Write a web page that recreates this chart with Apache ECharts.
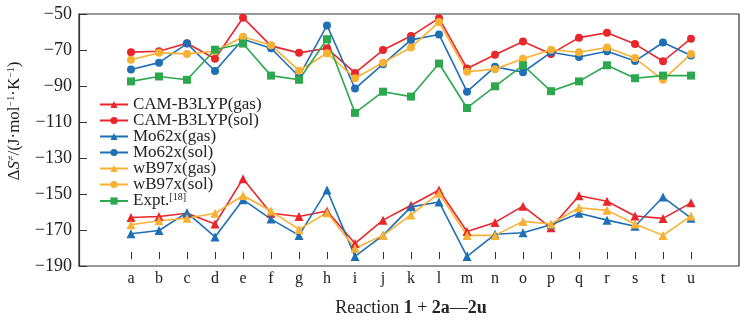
<!DOCTYPE html>
<html><head><meta charset="utf-8">
<script src="https://cdn.jsdelivr.net/npm/echarts@6/dist/echarts.min.js"></script>
<style>html,body{margin:0;padding:0;background:#fff}#c{width:751px;height:322px}</style>
</head><body><div id="c"></div>
<script>
var categories = ['a','b','c','d','e','f','g','h','i','j','k','l','m','n','o','p','q','r','s','t','u'];
var yTicks = {min: -190, max: -50, interval: 20};
var camGas = [-166.3,-165.7,-163.9,-170.0,-144.1,-163.9,-165.7,-162.6,-181.1,-167.8,-159.3,-150.6,-174.3,-169.1,-159.8,-172.2,-153.9,-157.0,-165.4,-166.8,-157.9];
var camSol = [-71.8,-71.3,-66.7,-75.6,-52.1,-68.2,-72.2,-69.6,-83.7,-70.6,-62.6,-52.4,-81.1,-73.3,-65.7,-72.8,-63.5,-60.7,-67.2,-77.0,-64.1];
var moGas = [-175.6,-173.7,-163.5,-177.4,-156.1,-167.2,-176.5,-150.6,-188.5,-176.5,-160.2,-157.4,-188.5,-175.9,-175.0,-170.4,-163.9,-167.8,-171.3,-154.6,-166.7];
var moSol = [-81.7,-77.8,-66.9,-82.6,-64.4,-69.6,-85.7,-56.5,-92.6,-78.7,-64.8,-61.7,-94.4,-80.2,-83.3,-71.9,-74.6,-71.3,-76.9,-66.3,-73.7];
var wbGas = [-170.4,-168.1,-166.7,-163.9,-153.7,-162.6,-173.1,-163.5,-183.9,-176.5,-164.8,-152.4,-176.5,-176.5,-168.5,-170.0,-160.7,-162.2,-170.0,-176.5,-165.4];
var wbSol = [-76.1,-72.2,-72.8,-71.3,-63.0,-67.8,-82.4,-72.4,-86.7,-77.8,-69.1,-54.6,-83.0,-81.5,-75.6,-70.4,-71.9,-69.1,-75.2,-87.6,-72.8];
var expt = [-88.5,-85.7,-87.6,-70.4,-66.9,-85.2,-87.6,-64.4,-106.5,-94.4,-97.2,-78.3,-103.7,-91.3,-79.3,-94.1,-88.5,-79.3,-86.7,-85.2,-85.2];

var FONT = '"Liberation Serif", "Times New Roman", serif';
var RED = '#e8262b', BLUE = '#1f6fb5', ORANGE = '#f8b133', GREEN = '#2ea84f';

function mk(name, data, color, symbol, size) {
  return {
    name: name, type: 'line', data: data, xAxisIndex: 1, yAxisIndex: 1,
    symbol: symbol, symbolSize: size,
    lineStyle: {color: color, width: 1.6},
    itemStyle: {color: color},
    emphasis: {disabled: true}
  };
}

var chart = echarts.init(document.getElementById('c'));
chart.setOption({
  animation: false,
  backgroundColor: '#fff',
  grid: [
    {left: 79, right: 12, top: 14, bottom: 56, show: true, borderColor: '#333', borderWidth: 1.2, backgroundColor: 'transparent'},
    {left: 131, right: 60, top: 14, bottom: 56}
  ],
  xAxis: [
    {type: 'value', gridIndex: 0, show: false, min: 0, max: 1},
    {type: 'category', gridIndex: 1, data: categories, boundaryGap: false,
     axisLine: {show: false},
     axisTick: {show: true, inside: true, length: 7, alignWithLabel: true, lineStyle: {color: '#333', width: 1}},
     axisLabel: {color: '#222', fontFamily: FONT, fontSize: 16, margin: 12, interval: 0},
     splitLine: {show: false},
     name: 'Reaction {b|1} + {b|2a}—{b|2u}', nameLocation: 'middle', nameGap: 40,
     nameTextStyle: {color: '#222', fontFamily: FONT, fontSize: 18,
       rich: {b: {fontWeight: 'bold', fontFamily: FONT, fontSize: 18, color: '#222'}}}
    }
  ],
  yAxis: [
    {type: 'value', gridIndex: 0, min: yTicks.min, max: yTicks.max, interval: yTicks.interval,
     axisLine: {show: true, lineStyle: {color: '#333', width: 1.2}},
     axisTick: {show: true, inside: true, length: 8, lineStyle: {color: '#333', width: 1}},
     axisLabel: {color: '#222', fontFamily: FONT, fontSize: 18, margin: 7,
       formatter: function (v) { return String(v).replace('-', '\u2212'); }},
     splitLine: {show: false}
    },
    {type: 'value', gridIndex: 1, min: yTicks.min, max: yTicks.max, interval: yTicks.interval, show: false}
  ],
  legend: {
    orient: 'vertical', left: 99, top: 96, padding: 0, itemWidth: 28, itemHeight: 9, itemGap: -1,
    textStyle: {color: '#222', fontFamily: FONT, fontSize: 17, lineHeight: 16,
      rich: {s: {fontFamily: FONT, fontSize: 10, color: '#222', lineHeight: 16, padding: [0, 0, 8, 0]}}},
    formatter: function (n) { return n === 'Expt.' ? 'Expt.{s|[18]}' : n; },
    data: ['CAM-B3LYP(gas)','CAM-B3LYP(sol)','Mo62x(gas)','Mo62x(sol)','wB97x(gas)','wB97x(sol)','Expt.']
  },
  graphic: [{
    type: 'text', rotation: Math.PI / 2,
    x: 15, y: 121,
    style: {
      text: 'Δ{i|S}{s|≠}/(J·mol{s|−1}·K{s|−1})',
      fill: '#222', font: '17px ' + FONT, align: 'center', verticalAlign: 'middle',
      rich: {
        i: {fontStyle: 'italic', fontFamily: FONT, fontSize: 17, fill: '#222'},
        s: {fontFamily: FONT, fontSize: 10, fill: '#222', padding: [0, 0, 8, 0]}
      }
    }
  }],
  series: [
    mk('CAM-B3LYP(gas)', camGas, RED, 'triangle', 9),
    mk('CAM-B3LYP(sol)', camSol, RED, 'circle', 8),
    mk('Mo62x(gas)', moGas, BLUE, 'triangle', 9),
    mk('Mo62x(sol)', moSol, BLUE, 'circle', 8),
    mk('wB97x(gas)', wbGas, ORANGE, 'triangle', 9),
    mk('wB97x(sol)', wbSol, ORANGE, 'circle', 8),
    mk('Expt.', expt, GREEN, 'rect', 8)
  ]
});
</script></body></html>
